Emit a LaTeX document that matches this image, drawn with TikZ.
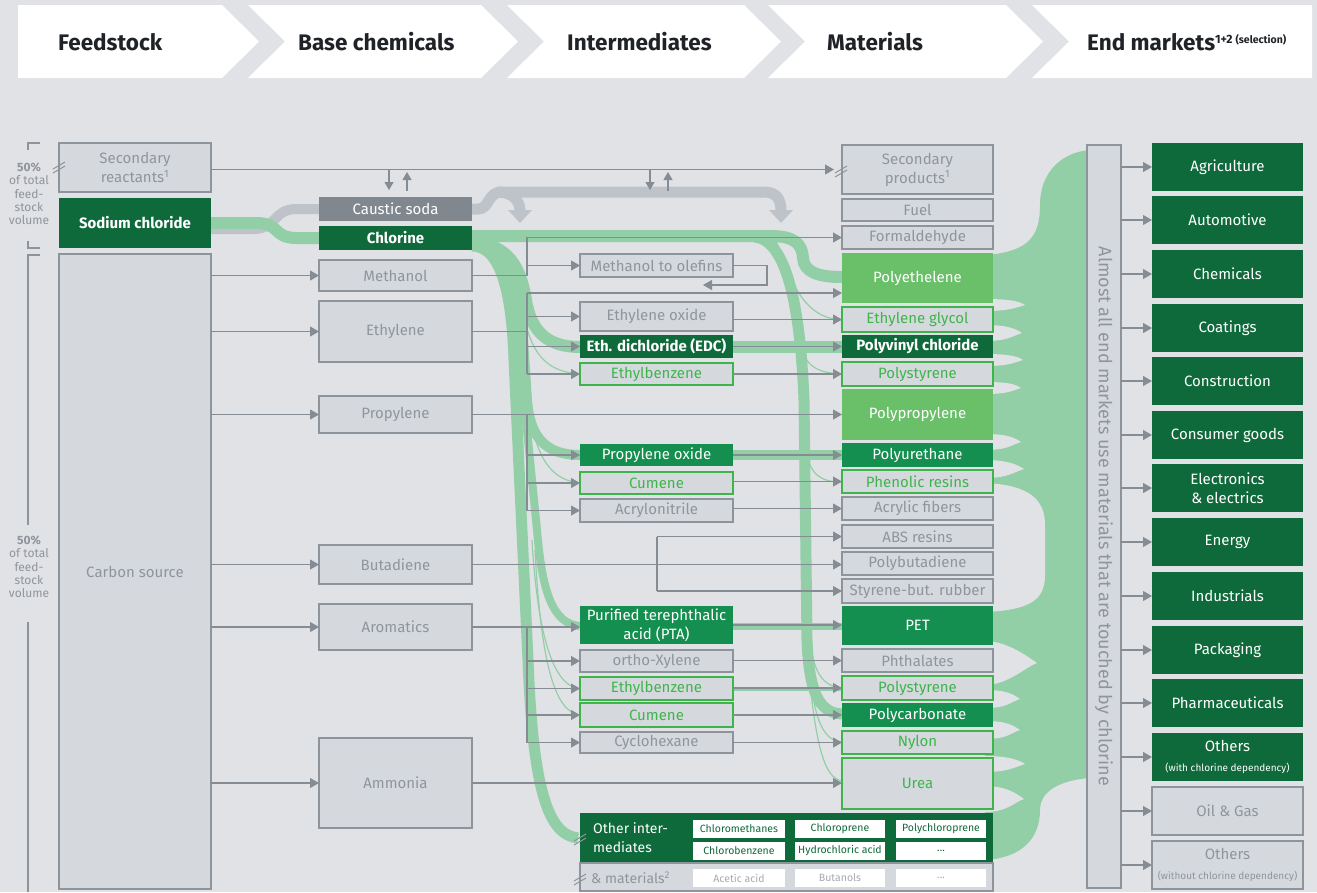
\documentclass[tikz,border=0pt]{standalone}
\usepackage{fontspec}
\setmainfont{Fira Sans}
\usetikzlibrary{arrows.meta}

\definecolor{bgc}{HTML}{E1E2E5}
\definecolor{boxg}{HTML}{D5D9DE}
\definecolor{lineg}{HTML}{8D949B}
\definecolor{txtg}{HTML}{8F959C}
\definecolor{dkgreen}{HTML}{0F6A3B}
\definecolor{mdgreen}{HTML}{148F4F}
\definecolor{ltgreen}{HTML}{6ABF69}
\definecolor{lngreen}{HTML}{3EB54B}
\definecolor{flowg}{HTML}{93CFA6}
\definecolor{flowgray}{HTML}{BEC3CA}
\definecolor{causticg}{HTML}{80878F}
\definecolor{arrowg}{HTML}{868C93}
\definecolor{headtxt}{HTML}{1F2226}
\definecolor{subtxt}{HTML}{A6ABB1}

% box from corner (x1,y1) to corner (x2,y2)
\newcommand{\mkbox}[7]{%
  \pgfmathsetmacro\mkW{#4-#2}\pgfmathsetmacro\mkH{#5-#3}%
  \node[#6,minimum width=\mkW pt,minimum height=\mkH pt] (#1) at ({(#2+#4)/2},{(#3+#5)/2}) {#7};}
% double-slash break mark
\newcommand{\brkmark}[2]{\draw[brkline] (#1-6,#2+3) -- (#1+6,#2-4) (#1-6,#2+7) -- (#1+6,#2);}
% background-coloured notch in the market flow
\newcommand{\notch}[3]{\fill[bgc] (985,#1-#2) .. controls (1008,#1-#2) and (#3-6,#1-4) .. (#3,#1) .. controls (#3-10,#1+3) and (1008,#1+#2) .. (985,#1+#2) -- cycle;}

\begin{document}
\begin{tikzpicture}[x=1pt,y=-1pt,
  bxbase/.style={inner sep=0pt,outer sep=0pt,align=center,font=\fontsize{15}{19}\selectfont},
  graybox/.style={bxbase,fill=boxg,draw=lineg,line width=1.5pt,text=txtg},
  greenline/.style={bxbase,fill=boxg,draw=lngreen,line width=1.3pt,text=lngreen},
  darkbox/.style={bxbase,fill=dkgreen,text=white},
  boldbox/.style={darkbox,font=\fontsize{15}{19}\selectfont\bfseries},
  midbox/.style={bxbase,fill=mdgreen,text=white},
  lightbox/.style={bxbase,fill=ltgreen,text=white},
  causticbox/.style={bxbase,fill=causticg,text=white},
  subbox/.style={inner sep=0pt,outer sep=0pt,fill=white,text=dkgreen,font=\fontsize{10.5}{13}\selectfont},
  subgray/.style={subbox,text=subtxt},
  conn/.style={draw=arrowg,line width=1.1pt,-{Triangle[length=9pt,width=10pt]}},
  connsm/.style={draw=arrowg,line width=1.1pt,-{Triangle[length=8pt,width=9pt]}},
  cline/.style={draw=arrowg,line width=1.1pt},
  brkline/.style={draw=lineg,line width=1pt},
  gflow/.style={draw=flowg,line cap=butt},
  grflow/.style={draw=flowgray,line cap=butt},
  thin/.style={draw=flowg,line width=1.2pt},
  head/.style={anchor=west,inner sep=0pt,text=headtxt,font=\fontsize{22.5}{26}\selectfont\bfseries},
  side/.style={inner sep=0pt,align=center,text=txtg,font=\fontsize{12}{13.3}\selectfont},
]
\useasboundingbox (0,0) rectangle (1317,892);
\fill[bgc] (0,0) rectangle (1317,892);

% ---------------- header chevrons ----------------
\fill[white] (18,5) -- (222,5) -- (259,41.5) -- (222,78) -- (18,78) -- cycle;
\fill[white] (248,5) -- (481,5) -- (518,41.5) -- (481,78) -- (248,78) -- (285,41.5) -- cycle;
\fill[white] (507,5) -- (744,5) -- (781,41.5) -- (744,78) -- (507,78) -- (544,41.5) -- cycle;
\fill[white] (768,5) -- (1006,5) -- (1043,41.5) -- (1006,78) -- (768,78) -- (805,41.5) -- cycle;
\fill[white] (1032,5) -- (1312,5) -- (1312,78) -- (1032,78) -- (1069,41.5) -- cycle;
\node[head] (h1) at (58,42) {Feedstock};
\node[head] (h2) at (298,42) {Base chemicals};
\node[head] (h3) at (567,42) {Intermediates};
\node[head] (h4) at (827,42) {Materials};
\node[head] (h5) at (1087,42) {End markets\raisebox{7pt}{\fontsize{12}{13}\selectfont 1+2 \fontsize{10.5}{12}\selectfont(selection)}};

% ---------------- flow into end markets ----------------
\fill[flowg] (985,255) .. controls (1030,252) and (1040,235) .. (1040,205)
  .. controls (1040,172) and (1062,152) .. (1090,150) -- (1090,778)
  .. controls (1062,780) and (1040,790) .. (1040,810)
  .. controls (1040,840) and (1020,858) .. (985,860) -- cycle;
\notch{305}{6}{1025}
\notch{333}{8}{1022}
\notch{360}{6}{1023}
\notch{388}{6}{1021}
\notch{442}{8}{1021}
\notch{469}{9}{1024}
\fill[bgc] (985,483) .. controls (1030,485) and (1045,500) .. (1045,525) -- (1045,575)
  .. controls (1045,600) and (1030,610) .. (985,612) -- cycle;
\notch{663}{22}{1037}
\notch{699}{9}{1020}
\notch{730}{9}{1020}
\notch{764}{8}{1025}
\notch{799}{13}{1024}

% ---------------- sodium chloride split ----------------
\draw[grflow,line width=10pt] (211,229) -- (253,229) .. controls (278,229) and (272,209) .. (297,209) -- (319,209);
\draw[gflow,line width=12pt] (211,223) -- (256,223) .. controls (281,223) and (272,238) .. (297,238) -- (319,238);

% caustic soda return band
\draw[grflow,line width=11pt] (472,209) -- (478,209) .. controls (490,209) and (487,192) .. (502,192) -- (764,192) .. controls (777,192) and (781,200) .. (781,211);
\draw[grflow,line width=11pt] (497,192) .. controls (512,192) and (520,200) .. (520,211);
\fill[flowgray] (508,210) -- (532,210) -- (520,223) -- cycle;
\fill[flowgray] (769,210) -- (793,210) -- (781,223) -- cycle;

% chlorine: upper band and right trunk
\draw[gflow,line width=12pt] (472,236) -- (770,236) .. controls (795,236) and (802,244) .. (803,258) .. controls (804,272) and (818,277) .. (842,277);
\draw[gflow,line width=11pt] (755,237) .. controls (785,240) and (800,300) .. (804,400) -- (807,640) .. controls (809,690) and (818,713) .. (842,714);
\draw[thin] (776,241) .. controls (790,275) and (800,318) .. (842,320);
\draw[thin] (800,345) .. controls (806,368) and (820,373) .. (842,374);
\draw[thin] (806,450) .. controls (810,476) and (822,482) .. (842,482);
\draw[thin] (807,610) .. controls (810,670) and (820,686) .. (842,688);
\draw[thin] (807,640) .. controls (812,720) and (822,740) .. (842,742);
\draw[thin] (807,650) .. controls (815,750) and (825,778) .. (842,781);

% chlorine: left trunk
\draw[gflow,line width=11pt] (472,246) .. controls (503,246) and (512,300) .. (514,360) -- (528,660) .. controls (533,790) and (548,835) .. (578,838);
\draw[gflow,line width=8pt] (472,246) .. controls (505,246) and (516,300) .. (520,360) -- (537,530) .. controls (542,590) and (552,624) .. (580,626);
\draw[gflow,line width=10pt] (472,245) .. controls (508,245) and (520,290) .. (523,340) -- (527,400) .. controls (530,440) and (548,455) .. (580,455);
\draw[gflow,line width=12pt] (472,243) .. controls (508,243) and (521,268) .. (526,300) .. controls (531,332) and (548,347) .. (580,347);
\draw[thin] (524,315) .. controls (532,360) and (552,372) .. (580,374);
\draw[thin] (528,400) .. controls (535,462) and (553,480) .. (580,483);
\draw[thin] (532,540) .. controls (538,640) and (554,686) .. (580,689);
\draw[thin] (535,550) .. controls (541,665) and (555,712) .. (580,715);

% intermediates to materials bands
\draw[gflow,line width=12pt] (733,347) -- (842,347);
\draw[gflow,line width=10pt] (733,455) -- (842,455);
\draw[gflow,line width=7pt] (733,626) -- (842,626);
\draw[gflow,line width=3pt] (733,689) -- (842,689);
\draw[gflow,line width=2pt] (733,715) -- (842,715);

% ---------------- boxes ----------------
\mkbox{secr}{59}{143}{211}{192}{graybox}{Secondary\\reactants\textsuperscript{1}}
\mkbox{nacl}{59}{198}{211}{248}{boldbox}{Sodium chloride}
\mkbox{carbon}{59}{254}{211}{889}{graybox}{Carbon source}

\mkbox{caustic}{319}{197}{472}{221}{causticbox}{Caustic soda}
\mkbox{chlor}{319}{226}{472}{250}{boldbox}{Chlorine}
\mkbox{meth}{319}{260}{472}{291}{graybox}{Methanol}
\mkbox{eth}{319}{301}{472}{362}{graybox}{Ethylene}
\mkbox{prop}{319}{396}{472}{433}{graybox}{Propylene}
\mkbox{buta}{319}{545}{472}{584}{graybox}{Butadiene}
\mkbox{arom}{319}{604}{472}{650}{graybox}{Aromatics}
\mkbox{amm}{319}{738}{472}{828}{graybox}{Ammonia}

\mkbox{mto}{580}{254}{733}{277}{graybox}{Methanol to olefins}
\mkbox{eo}{580}{302}{733}{331}{graybox}{Ethylene oxide}
\mkbox{edc}{580}{335}{733}{358}{boldbox}{Eth. dichloride (EDC)}
\mkbox{eba}{580}{363}{733}{385}{greenline}{Ethylbenzene}
\mkbox{po}{580}{444}{733}{466}{midbox}{Propylene oxide}
\mkbox{cua}{580}{472}{733}{494}{greenline}{Cumene}
\mkbox{acr}{580}{499}{733}{522}{graybox}{Acrylonitrile}
\mkbox{pta}{580}{606}{733}{644}{midbox}{Purified terephthalic\\acid (PTA)}
\mkbox{ox}{580}{650}{733}{672}{graybox}{ortho-Xylene}
\mkbox{ebb}{580}{677}{733}{700}{greenline}{Ethylbenzene}
\mkbox{cub}{580}{703}{733}{727}{greenline}{Cumene}
\mkbox{cyc}{580}{732}{733}{753}{graybox}{Cyclohexane}

\mkbox{secp}{842}{145}{993}{194}{graybox}{Secondary\\products\textsuperscript{1}}
\mkbox{fuel}{842}{199}{993}{221}{graybox}{Fuel}
\mkbox{form}{842}{226}{993}{249}{graybox}{Formaldehyde}
\mkbox{pe}{842}{253}{993}{303}{lightbox}{Polyethelene}
\mkbox{eg}{842}{307}{993}{332}{greenline}{Ethylene glycol}
\mkbox{pvc}{842}{335}{993}{358}{boldbox}{Polyvinyl chloride}
\mkbox{psa}{842}{362}{993}{386}{greenline}{Polystyrene}
\mkbox{pp}{842}{389}{993}{440}{lightbox}{Polypropylene}
\mkbox{pu}{842}{443}{993}{467}{midbox}{Polyurethane}
\mkbox{phen}{842}{470}{993}{493}{greenline}{Phenolic resins}
\mkbox{acf}{842}{497}{993}{520}{graybox}{Acrylic fibers}
\mkbox{abs}{842}{525}{993}{548}{graybox}{ABS resins}
\mkbox{pbd}{842}{552}{993}{575}{graybox}{Polybutadiene}
\mkbox{sbr}{842}{579}{993}{603}{graybox}{Styrene-but. rubber}
\mkbox{pet}{842}{606}{993}{645}{midbox}{PET}
\mkbox{phth}{842}{649}{993}{672}{graybox}{Phthalates}
\mkbox{psb}{842}{676}{993}{700}{greenline}{Polystyrene}
\mkbox{pc}{842}{703}{993}{727}{midbox}{Polycarbonate}
\mkbox{nylon}{842}{731}{993}{754}{greenline}{Nylon}
\mkbox{urea}{842}{758}{993}{809}{greenline}{Urea}

% other intermediates & materials
\mkbox{other}{580}{813}{993}{863}{darkbox}{}
\mkbox{othermat}{580}{863}{993}{891}{graybox}{}
\node[anchor=west,inner sep=0pt,align=left,text=white,font=\fontsize{14}{19}\selectfont] (othertxt) at (593,838) {Other inter-\\mediates};
\node[anchor=west,inner sep=0pt,text=txtg,font=\fontsize{14}{15}\selectfont] (mattxt) at (591,878) {\& materials\textsuperscript{2}};
\mkbox{s11}{693}{820}{785}{838}{subbox}{Chloromethanes}
\mkbox{s12}{795}{820}{885}{838}{subbox}{Chloroprene}
\mkbox{s13}{896}{820}{986}{838}{subbox}{Polychloroprene}
\mkbox{s21}{693}{842}{785}{860}{subbox}{Chlorobenzene}
\mkbox{s22}{795}{842}{885}{860}{subbox}{Hydrochloric acid}
\mkbox{s23}{896}{842}{986}{860}{subbox}{...}
\mkbox{s31}{693}{869}{785}{887}{subgray}{Acetic acid}
\mkbox{s32}{795}{869}{885}{887}{subgray}{Butanols}
\mkbox{s33}{896}{869}{986}{887}{subgray}{...}

% end markets
\mkbox{bar}{1087}{145}{1121}{888}{graybox}{}
\node[rotate=-90,inner sep=0pt,text=txtg,font=\fontsize{18}{20}\selectfont] (bartxt) at (bar.center) {Almost all end markets use materials that are touched by chlorine};
\mkbox{em1}{1152}{143}{1303}{191}{darkbox}{Agriculture}
\mkbox{em2}{1152}{196}{1303}{244}{darkbox}{Automotive}
\mkbox{em3}{1152}{250}{1303}{298}{darkbox}{Chemicals}
\mkbox{em4}{1152}{304}{1303}{352}{darkbox}{Coatings}
\mkbox{em5}{1152}{357}{1303}{405}{darkbox}{Construction}
\mkbox{em6}{1152}{411}{1303}{459}{darkbox}{Consumer goods}
\mkbox{em7}{1152}{464}{1303}{512}{darkbox}{Electronics\\\& electrics}
\mkbox{em8}{1152}{518}{1303}{566}{darkbox}{Energy}
\mkbox{em9}{1152}{572}{1303}{620}{darkbox}{Industrials}
\mkbox{em10}{1152}{626}{1303}{674}{darkbox}{Packaging}
\mkbox{em11}{1152}{679}{1303}{727}{darkbox}{Pharmaceuticals}
\mkbox{em12}{1152}{733}{1303}{781}{darkbox}{Others\\[1pt]{\fontsize{10}{11}\selectfont(with chlorine dependency)}}
\mkbox{em13}{1152}{787}{1303}{835}{graybox}{Oil \& Gas}
\mkbox{em14}{1152}{841}{1303}{889}{graybox}{Others\\[1pt]{\fontsize{10}{11}\selectfont(without chlorine dependency)}}

% ---------------- connectors ----------------
\coordinate (jx) at (527,0);
\coordinate (jb) at (657,0);
\coordinate (pein) at ([yshift=-15pt]pe.west);
\coordinate (mtoret) at (703,285);

\draw[conn] (secr.east |- secp.west) -- ([xshift=-8pt]secp.west);
\coordinate (sa) at (389,170); \coordinate (sae) at (389,190);
\coordinate (sb) at (407,191); \coordinate (sbe) at (407,172);
\coordinate (sc) at (650,170); \coordinate (sce) at (650,190);
\coordinate (sd) at (668,191); \coordinate (sde) at (668,172);
\draw[connsm] (sa) -- (sae);
\draw[connsm] (sb) -- (sbe);
\draw[connsm] (sc) -- (sce);
\draw[connsm] (sd) -- (sde);

\foreach \b in {meth,eth,prop,buta,arom,amm}
  \draw[conn] (carbon.east |- \b.west) -- (\b.west);

\draw[conn] (meth.east) -- (jx |- meth.east) |- (form.west);
\draw[conn] (jx |- mto.west) -- (mto.west);
\draw[conn] (mto.east) -- ++(34,0) |- (mtoret);

\draw[cline] (eth.east) -- (jx |- eth.east);
\draw[cline] (jx |- pein) -- (jx |- eba.west);
\draw[conn] (jx |- pein) -- (pein);
\foreach \b in {eo,edc,eba}
  \draw[conn] (jx |- \b.west) -- (\b.west);

\draw[conn] (prop.east) -- (pp.west |- prop.east);
\draw[cline] (jx |- prop.east) -- (jx |- acr.west);
\foreach \b in {po,cua,acr}
  \draw[conn] (jx |- \b.west) -- (\b.west);

\draw[conn] (buta.east) -- (pbd.west |- buta.east);
\draw[cline] (jb |- abs.west) -- (jb |- sbr.west);
\draw[conn] (jb |- abs.west) -- (abs.west);
\draw[conn] (jb |- sbr.west) -- (sbr.west);

\draw[conn] (arom.east) -- (pta.west |- arom.east);
\draw[cline] (jx |- arom.east) -- (jx |- cyc.west);
\foreach \b in {ox,ebb,cub,cyc}
  \draw[conn] (jx |- \b.west) -- (\b.west);

\draw[conn] (amm.east) -- (urea.west |- amm.east);

\draw[conn] (eo.east |- eg.west) -- (eg.west);
\draw[conn] (edc.east) -- (pvc.west);
\draw[conn] (eba.east |- psa.west) -- (psa.west);
\draw[conn] (po.east) -- (pu.west);
\draw[conn] (cua.east |- phen.west) -- (phen.west);
\draw[conn] (acr.east |- acf.west) -- (acf.west);
\draw[conn] (pta.east) -- (pet.west |- pta.east);
\draw[conn] (ox.east |- phth.west) -- (phth.west);
\draw[conn] (ebb.east |- psb.west) -- (psb.west);
\draw[conn] (cub.east |- pc.west) -- (pc.west);
\draw[conn] (cyc.east |- nylon.west) -- (nylon.west);

\foreach \m in {em1,em2,em3,em4,em5,em6,em7,em8,em9,em10,em11,em12,em13,em14}
  \draw[conn] (bar.east |- \m.west) -- (\m.west);

% ---------------- break marks ----------------
\brkmark{59}{166}
\brkmark{841}{170}
\brkmark{580}{838}
\brkmark{580}{878}

% ---------------- feedstock share labels ----------------
\draw[brkline,line width=1.2pt] (40,143) -- (28,143) -- (28,150);
\draw[brkline,line width=1.2pt] (28,241) -- (28,248) -- (40,248);
\draw[brkline,line width=1.2pt] (40,255) -- (28,255) -- (28,525);
\draw[brkline,line width=1.2pt] (28,622) -- (28,892);
\node[side] (shareA) at (29,194) {\textbf{50\%}\\of total\\feed-\\stock\\volume};
\node[side] (shareB) at (29,567) {\textbf{50\%}\\of total\\feed-\\stock\\volume};
\end{tikzpicture}
\end{document}
